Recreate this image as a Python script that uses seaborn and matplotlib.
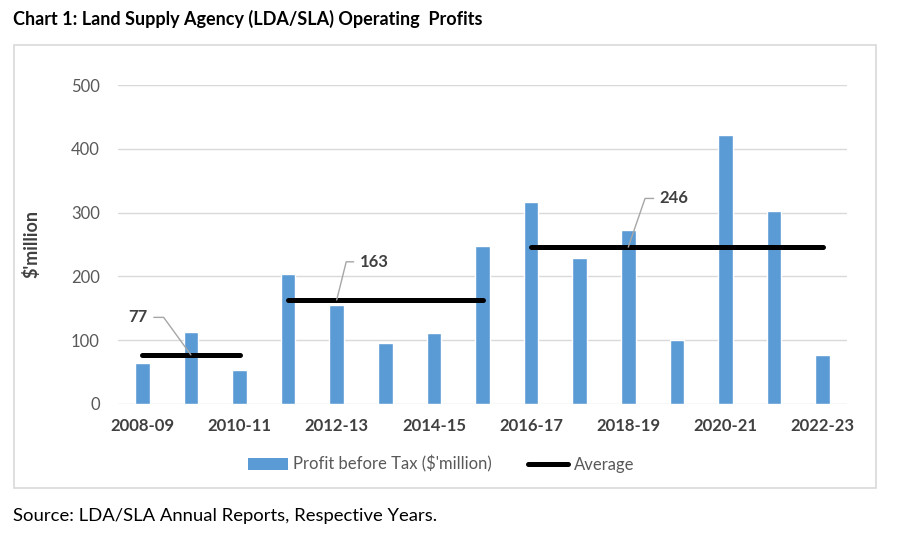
import matplotlib
matplotlib.use("Agg")
import matplotlib.pyplot as plt
import seaborn as sns
import pandas as pd
from matplotlib.patches import Rectangle, Patch
from matplotlib.lines import Line2D

years = ["2008-09", "2009-10", "2010-11", "2011-12", "2012-13", "2013-14", "2014-15",
         "2015-16", "2016-17", "2017-18", "2018-19", "2019-20", "2020-21", "2021-22", "2022-23"]
profit = [64, 113, 53, 203, 155, 95, 112, 248, 317, 229, 272, 100, 421, 303, 77]
avg_values = [77, 163, 246]
avg_first = ["2008-09", "2011-12", "2016-17"]
avg_last = ["2010-11", "2015-16", "2022-23"]
avg_label_at = ["2009-10", "2012-13", "2018-19"]
yticks = [0, 100, 200, 300, 400, 500]
xtick_labels = years[::2]

sns.set_theme(style="white")
plt.rcParams['font.family'] = ['Lato', 'DejaVu Sans']

W, H = 900, 535
fig = plt.figure(figsize=(W / 100, H / 100), dpi=100)
ax = fig.add_axes([118 / W, 1 - 404 / H, 729 / W, 319 / H])

df = pd.DataFrame({"Year": years, "Profit": profit})
sns.barplot(data=df, x="Year", y="Profit", color="#5B9BD5", saturation=1,
            width=0.3, ax=ax, zorder=2, errorbar=None)

for v, a, b in zip(avg_values, avg_first, avg_last):
    i0, i1 = years.index(a), years.index(b)
    ax.plot([i0, i1], [v, v], color="black", lw=3.6, solid_capstyle="round", zorder=3)

# label offsets (points) and leader angles
label_offsets = [(-38, 27), (27, 27.5), (33, 35)]
leader_angles = [126, 76, 71]
for v, at, off, ang in zip(avg_values, avg_label_at, label_offsets, leader_angles):
    ax.annotate(str(v), xy=(years.index(at), v), xytext=off, textcoords="offset points",
                ha="center", va="center", fontsize=12, fontweight="bold", color="#404040",
                arrowprops=dict(arrowstyle="-", color="#A6A6A6", lw=1,
                                connectionstyle=f"angle,angleA=0,angleB={ang},rad=0",
                                shrinkA=2, shrinkB=0), zorder=4)

ax.set_xlim(-0.5, len(years) - 0.5)
ax.set_ylim(0, 500)
ax.set_yticks(yticks)
ax.set_yticklabels([str(t) for t in yticks])
ax.set_xticks(range(0, len(years), 2))
ax.set_xticklabels(xtick_labels)
ax.yaxis.grid(True, color="#D9D9D9", lw=1)
ax.xaxis.grid(False)
ax.set_axisbelow(True)
for s in ax.spines.values():
    s.set_visible(False)
ax.tick_params(axis="y", length=0, pad=13, labelsize=12, labelcolor="#595959")
ax.tick_params(axis="x", length=0, pad=10, labelsize=12, labelcolor="#404040")
for lab in ax.get_xticklabels():
    lab.set_fontweight("bold")
ax.set_xlabel("")
ax.set_ylabel("$'million", fontsize=13, fontweight="bold", color="#404040")
ax.yaxis.set_label_coords(-0.107, 0.5)

handles = [Patch(facecolor="#5B9BD5", edgecolor="none", label="Profit before Tax ($'million)"),
           Line2D([0], [0], color="black", lw=3.6, label="Average")]
fig.legend(handles=handles, loc="center", bbox_to_anchor=(441 / W, 1 - 464 / H), ncol=2,
           frameon=False, fontsize=12, labelcolor="#595959", handlelength=2.4,
           handleheight=0.7, handletextpad=0.3, columnspacing=2.2)

fig.patches.append(Rectangle((14 / W, 1 - 488 / H), 862 / W, 443 / H, transform=fig.transFigure,
                             fill=False, edgecolor="#D9D9D9", lw=1.2))

fig.text(13 / W, 1 - 19 / H, "Chart 1: Land Supply Agency (LDA/SLA) Operating  Profits",
         fontsize=13, fontweight="bold", color="black", ha="left", va="center")
fig.text(13 / W, 1 - 516 / H, "Source: LDA/SLA Annual Reports, Respective Years.",
         fontsize=13.3, color="black", ha="left", va="center")

fig.savefig("out.png", dpi=100)
